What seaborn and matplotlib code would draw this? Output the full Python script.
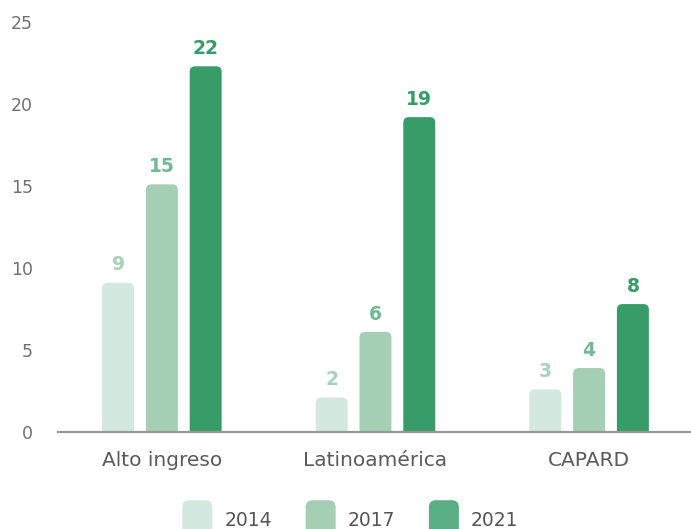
import matplotlib
matplotlib.use("Agg")
import matplotlib.pyplot as plt
from matplotlib.patches import FancyBboxPatch
from matplotlib.legend_handler import HandlerPatch
import pandas as pd
import seaborn as sns

categories = ["Alto ingreso", "Latinoamérica", "CAPARD"]
years = ["2014", "2017", "2021"]
values_2014 = [9.1, 2.1, 2.6]
values_2017 = [15.1, 6.1, 3.9]
values_2021 = [22.3, 19.2, 7.8]
yticks = [0, 5, 10, 15, 20, 25]

bar_colors = ["#d3e8de", "#a5cfb5", "#379c68"]
label_colors = ["#a8d2ba", "#6fba90", "#379c68"]
legend_colors = ["#d3e8de", "#a5cfb5", "#5aae85"]

sns.set_theme(style="white")
plt.rcParams["font.family"] = ["DejaVu Sans"]

df = pd.DataFrame({
    "categoria": categories * 3,
    "anio": [y for y in years for _ in categories],
    "valor": values_2014 + values_2017 + values_2021,
})

fig = plt.figure(figsize=(6.91, 5.29), dpi=100)
ax = fig.add_axes([0.084, 0.1834, 0.916, 0.775])

sns.barplot(data=df, x="categoria", y="valor", hue="anio", order=categories,
            hue_order=years, palette=bar_colors, width=0.615, gap=0.27,
            ax=ax, legend=False, errorbar=None, saturation=1)

ax.set_xlim(-0.486, 2.477)
ax.set_ylim(0, 25)

# px per data unit (x and y) for rounding the bar tops
fig.canvas.draw()
bbox = ax.get_window_extent()
px_x = bbox.width / (ax.get_xlim()[1] - ax.get_xlim()[0])
px_y = bbox.height / (ax.get_ylim()[1] - ax.get_ylim()[0])
radius_px = 5.5
aspect = px_x / px_y

series = [values_2014, values_2017, values_2021]
for i, cont in enumerate(ax.containers):
    for j, bar in enumerate(cont):
        x0 = bar.get_x()
        w = bar.get_width()
        h = bar.get_height()
        bar.set_visible(False)
        rb = FancyBboxPatch((x0, -1.0), w, h + 1.0,
                            boxstyle=f"round,pad=0,rounding_size={radius_px / px_x}",
                            mutation_aspect=aspect, facecolor=bar_colors[i],
                            edgecolor="none", zorder=2)
        ax.add_patch(rb)
        ax.annotate(f"{round(series[i][j])}", (x0 + w / 2, h),
                    xytext=(0, 6), textcoords="offset points",
                    ha="center", va="bottom", fontsize=13.5,
                    fontweight="bold", color=label_colors[i])

ax.set_xlabel("")
ax.set_ylabel("")
ax.set_yticks(yticks)
ax.set_yticklabels([str(t) for t in yticks])
ax.tick_params(axis="y", length=0, pad=18, labelsize=12.5, labelcolor="#707070")
ax.tick_params(axis="x", length=0, pad=14, labelsize=14.5, labelcolor="#5a5a5a")
for s in ["top", "right", "left"]:
    ax.spines[s].set_visible(False)
ax.spines["bottom"].set_color("#9a9696")
ax.spines["bottom"].set_linewidth(1.6)
ax.spines["bottom"].set_zorder(3)
for lab in ax.get_yticklabels():
    lab.set_horizontalalignment("right")


class RoundedHandler(HandlerPatch):
    def create_artists(self, legend, orig_handle, xdescent, ydescent,
                       width, height, fontsize, trans):
        p = FancyBboxPatch((-xdescent, -ydescent), width, height,
                           boxstyle="round,pad=0,rounding_size=5",
                           facecolor=orig_handle.get_facecolor(),
                           edgecolor="none", transform=trans)
        return [p]


handles = [FancyBboxPatch((0, 0), 1, 1, facecolor=c) for c in legend_colors]
leg = fig.legend(handles, years, loc="lower center", ncol=3,
                 bbox_to_anchor=(0.507, -0.053), frameon=False,
                 handler_map={FancyBboxPatch: RoundedHandler()},
                 handlelength=1.6, handleheight=2.9, handletextpad=0.64,
                 columnspacing=1.8, fontsize=13.5)
for t in leg.get_texts():
    t.set_color("#555555")

fig.savefig("out.png", dpi=100)
